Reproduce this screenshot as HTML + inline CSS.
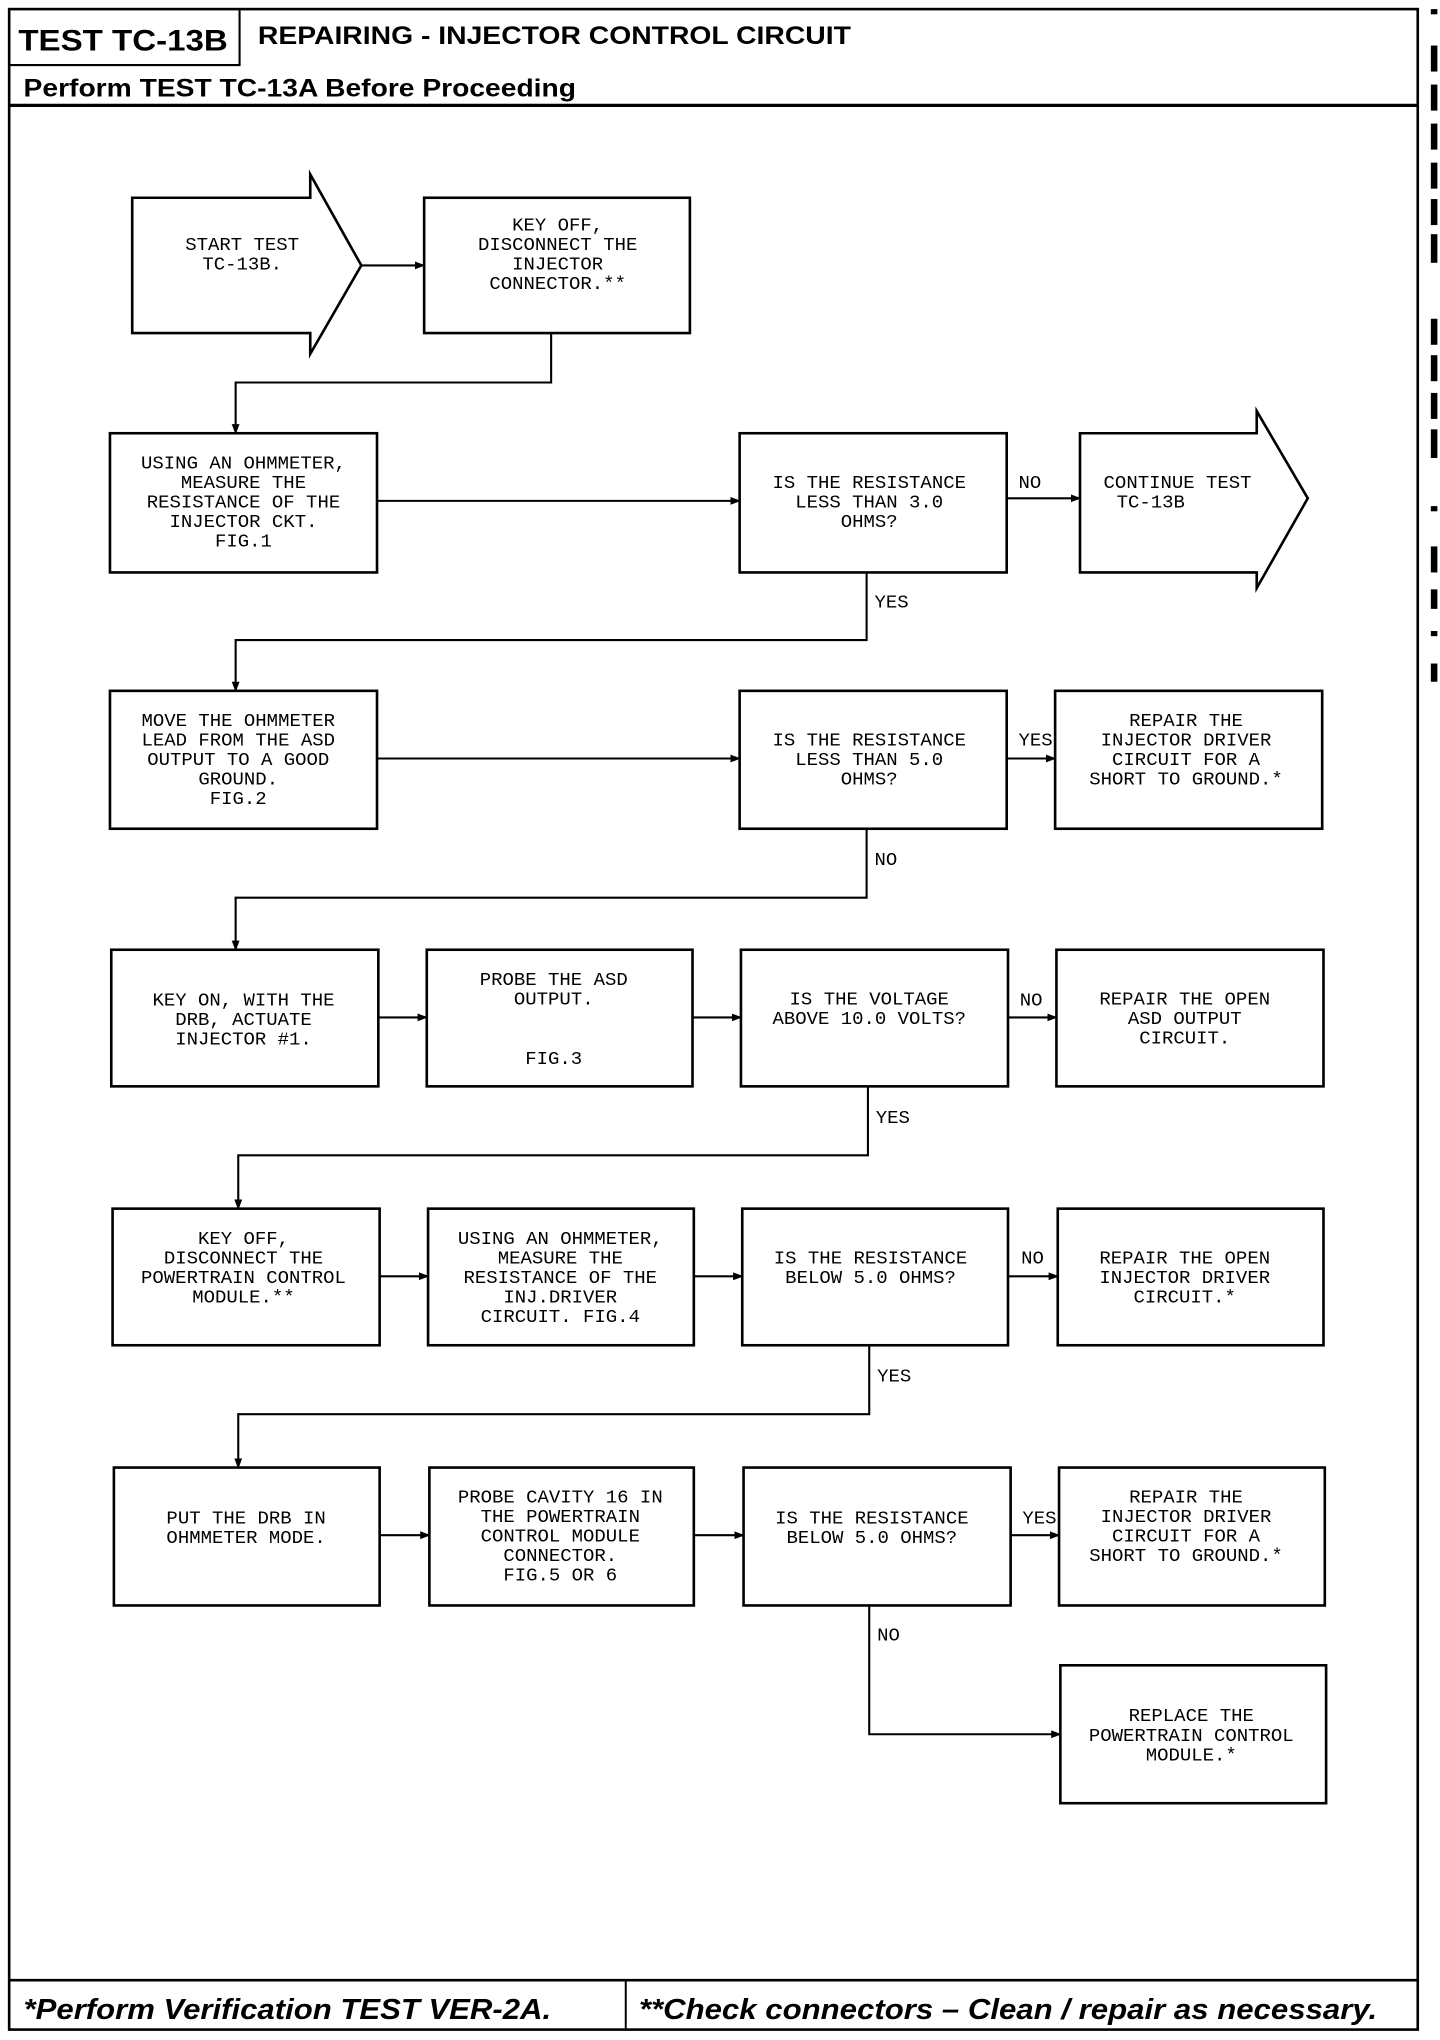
<!DOCTYPE html>
<html><head><meta charset="utf-8">
<style>
html,body{margin:0;padding:0;background:#fff;}
svg{display:block;}
.t{font-family:"Liberation Mono",monospace;font-size:14.5px;fill:#000;text-anchor:middle;}
.l{font-family:"Liberation Mono",monospace;font-size:14.5px;fill:#000;}
.b{fill:#fff;stroke:#000;stroke-width:2;}
.c{fill:none;stroke:#000;stroke-width:1.6;}
</style></head><body>
<svg width="1440" height="2040" viewBox="0 0 1100 1568" preserveAspectRatio="none" xmlns="http://www.w3.org/2000/svg">
<defs><marker id="a" markerWidth="8" markerHeight="8" refX="7" refY="4" orient="auto" markerUnits="userSpaceOnUse"><path d="M0,1 L8,4 L0,7 Z" fill="#000"/></marker></defs>
<rect x="0" y="0" width="1100" height="1568" fill="#fff"/>
<rect x="7" y="7" width="1076" height="1553" fill="none" stroke="#000" stroke-width="2"/>
<path d="M7,50 H183 V8" fill="none" stroke="#000" stroke-width="1.6"/>
<line x1="7" y1="81" x2="1083" y2="81" stroke="#000" stroke-width="2.5"/>
<text x="14" y="39" textLength="160" lengthAdjust="spacingAndGlyphs" style="font-family:'Liberation Sans',sans-serif;font-weight:bold;font-size:23px">TEST TC-13B</text>
<text x="197" y="34" textLength="453" lengthAdjust="spacingAndGlyphs" style="font-family:'Liberation Sans',sans-serif;font-weight:bold;font-size:19px">REPAIRING - INJECTOR CONTROL CIRCUIT</text>
<text x="18" y="74" textLength="422" lengthAdjust="spacingAndGlyphs" style="font-family:'Liberation Sans',sans-serif;font-weight:bold;font-size:19px">Perform TEST TC-13A Before Proceeding</text>
<line x1="7" y1="1522" x2="1083" y2="1522" stroke="#000" stroke-width="2"/>
<line x1="478" y1="1522" x2="478" y2="1560" stroke="#000" stroke-width="1.5"/>
<text x="18" y="1552" textLength="403" lengthAdjust="spacingAndGlyphs" style="font-family:'Liberation Sans',sans-serif;font-weight:bold;font-style:italic;font-size:22px">*Perform Verification TEST VER-2A.</text>
<text x="488" y="1552" textLength="564" lengthAdjust="spacingAndGlyphs" style="font-family:'Liberation Sans',sans-serif;font-weight:bold;font-style:italic;font-size:22px">**Check connectors – Clean / repair as necessary.</text>
<g fill="#000">
<rect x="1093" y="7" width="5" height="4"/><rect x="1093" y="35" width="5" height="20"/><rect x="1093" y="65" width="5" height="20"/><rect x="1093" y="95" width="5" height="20"/><rect x="1093" y="125" width="5" height="20"/><rect x="1093" y="153" width="5" height="20"/><rect x="1093" y="180" width="5" height="22"/>
<rect x="1093" y="245" width="5" height="20"/><rect x="1093" y="273" width="5" height="20"/><rect x="1093" y="302" width="5" height="20"/><rect x="1093" y="330" width="5" height="22"/>
<rect x="1093" y="389" width="5" height="4"/><rect x="1093" y="420" width="5" height="20"/><rect x="1093" y="453" width="5" height="15"/><rect x="1093" y="485" width="5" height="4"/><rect x="1093" y="510" width="5" height="14"/>
</g>
<line class="c" x1="276" y1="204" x2="324" y2="204" marker-end="url(#a)"/>
<path class="c" d="M421,256 V294 H180 V333" marker-end="url(#a)"/>
<line class="c" x1="288" y1="385" x2="565" y2="385" marker-end="url(#a)"/>
<line class="c" x1="769" y1="383" x2="825" y2="383" marker-end="url(#a)"/>
<path class="c" d="M662,440 V492 H180 V531" marker-end="url(#a)"/>
<line class="c" x1="288" y1="583" x2="565" y2="583" marker-end="url(#a)"/>
<line class="c" x1="769" y1="583" x2="806" y2="583" marker-end="url(#a)"/>
<path class="c" d="M662,637 V690 H180 V730" marker-end="url(#a)"/>
<line class="c" x1="289" y1="782" x2="326" y2="782" marker-end="url(#a)"/>
<line class="c" x1="529" y1="782" x2="566" y2="782" marker-end="url(#a)"/>
<line class="c" x1="770" y1="782" x2="807" y2="782" marker-end="url(#a)"/>
<path class="c" d="M663,835 V888 H182 V929" marker-end="url(#a)"/>
<line class="c" x1="290" y1="981" x2="327" y2="981" marker-end="url(#a)"/>
<line class="c" x1="530" y1="981" x2="567" y2="981" marker-end="url(#a)"/>
<line class="c" x1="770" y1="981" x2="808" y2="981" marker-end="url(#a)"/>
<path class="c" d="M664,1034 V1087 H182 V1128" marker-end="url(#a)"/>
<line class="c" x1="290" y1="1180" x2="328" y2="1180" marker-end="url(#a)"/>
<line class="c" x1="530" y1="1180" x2="568" y2="1180" marker-end="url(#a)"/>
<line class="c" x1="772" y1="1180" x2="809" y2="1180" marker-end="url(#a)"/>
<path class="c" d="M664,1234 V1333 H810" marker-end="url(#a)"/>
<text class="l" x="778" y="375">NO</text>
<text class="l" x="668" y="467">YES</text>
<text class="l" x="778" y="573">YES</text>
<text class="l" x="668" y="665">NO</text>
<text class="l" x="779" y="773">NO</text>
<text class="l" x="669" y="863">YES</text>
<text class="l" x="780" y="971">NO</text>
<text class="l" x="670" y="1062">YES</text>
<text class="l" x="781" y="1171">YES</text>
<text class="l" x="670" y="1261">NO</text>
<path class="b" d="M101,152 H237 V134 L276,204 L237,272 V256 H101 Z"/>
<rect class="b" x="324" y="152" width="203" height="104"/>
<rect class="b" x="84" y="333" width="204" height="107"/>
<rect class="b" x="565" y="333" width="204" height="107"/>
<path class="b" d="M825,333 H960 V316 L999,383 L960,452 V440 H825 Z"/>
<rect class="b" x="84" y="531" width="204" height="106"/>
<rect class="b" x="565" y="531" width="204" height="106"/>
<rect class="b" x="806" y="531" width="204" height="106"/>
<rect class="b" x="85" y="730" width="204" height="105"/>
<rect class="b" x="326" y="730" width="203" height="105"/>
<rect class="b" x="566" y="730" width="204" height="105"/>
<rect class="b" x="807" y="730" width="204" height="105"/>
<rect class="b" x="86" y="929" width="204" height="105"/>
<rect class="b" x="327" y="929" width="203" height="105"/>
<rect class="b" x="567" y="929" width="203" height="105"/>
<rect class="b" x="808" y="929" width="203" height="105"/>
<rect class="b" x="87" y="1128" width="203" height="106"/>
<rect class="b" x="328" y="1128" width="202" height="106"/>
<rect class="b" x="568" y="1128" width="204" height="106"/>
<rect class="b" x="809" y="1128" width="203" height="106"/>
<rect class="b" x="810" y="1280" width="203" height="106"/>
<text class="t" x="185" y="192">START TEST</text><text class="t" x="185" y="207">TC-13B.</text>
<text class="t" x="426" y="177">KEY OFF,</text><text class="t" x="426" y="192">DISCONNECT THE</text><text class="t" x="426" y="207">INJECTOR</text><text class="t" x="426" y="222">CONNECTOR.**</text>
<text class="t" x="186" y="360">USING AN OHMMETER,</text><text class="t" x="186" y="375">MEASURE THE</text><text class="t" x="186" y="390">RESISTANCE OF THE</text><text class="t" x="186" y="405">INJECTOR CKT.</text><text class="t" x="186" y="420">FIG.1</text>
<text class="t" x="664" y="375">IS THE RESISTANCE</text><text class="t" x="664" y="390">LESS THAN 3.0</text><text class="t" x="664" y="405">OHMS?</text>
<text class="l" x="843" y="375">CONTINUE TEST</text><text class="l" x="853" y="390">TC-13B</text>
<text class="t" x="182" y="558">MOVE THE OHMMETER</text><text class="t" x="182" y="573">LEAD FROM THE ASD</text><text class="t" x="182" y="588">OUTPUT TO A GOOD</text><text class="t" x="182" y="603">GROUND.</text><text class="t" x="182" y="618">FIG.2</text>
<text class="t" x="664" y="573">IS THE RESISTANCE</text><text class="t" x="664" y="588">LESS THAN 5.0</text><text class="t" x="664" y="603">OHMS?</text>
<text class="t" x="906" y="558">REPAIR THE</text><text class="t" x="906" y="573">INJECTOR DRIVER</text><text class="t" x="906" y="588">CIRCUIT FOR A</text><text class="t" x="906" y="603">SHORT TO GROUND.*</text>
<text class="t" x="186" y="773">KEY ON, WITH THE</text><text class="t" x="186" y="788">DRB, ACTUATE</text><text class="t" x="186" y="803">INJECTOR #1.</text>
<text class="t" x="423" y="757">PROBE THE ASD</text><text class="t" x="423" y="772">OUTPUT.</text><text class="t" x="423" y="818">FIG.3</text>
<text class="t" x="664" y="772">IS THE VOLTAGE</text><text class="t" x="664" y="787">ABOVE 10.0 VOLTS?</text>
<text class="t" x="905" y="772">REPAIR THE OPEN</text><text class="t" x="905" y="787">ASD OUTPUT</text><text class="t" x="905" y="802">CIRCUIT.</text>
<text class="t" x="186" y="956">KEY OFF,</text><text class="t" x="186" y="971">DISCONNECT THE</text><text class="t" x="186" y="986">POWERTRAIN CONTROL</text><text class="t" x="186" y="1001">MODULE.**</text>
<text class="t" x="428" y="956">USING AN OHMMETER,</text><text class="t" x="428" y="971">MEASURE THE</text><text class="t" x="428" y="986">RESISTANCE OF THE</text><text class="t" x="428" y="1001">INJ.DRIVER</text><text class="t" x="428" y="1016">CIRCUIT. FIG.4</text>
<text class="t" x="665" y="971">IS THE RESISTANCE</text><text class="t" x="665" y="986">BELOW 5.0 OHMS?</text>
<text class="t" x="905" y="971">REPAIR THE OPEN</text><text class="t" x="905" y="986">INJECTOR DRIVER</text><text class="t" x="905" y="1001">CIRCUIT.*</text>
<text class="t" x="188" y="1171">PUT THE DRB IN</text><text class="t" x="188" y="1186">OHMMETER MODE.</text>
<text class="t" x="428" y="1155">PROBE CAVITY 16 IN</text><text class="t" x="428" y="1170">THE POWERTRAIN</text><text class="t" x="428" y="1185">CONTROL MODULE</text><text class="t" x="428" y="1200">CONNECTOR.</text><text class="t" x="428" y="1215">FIG.5 OR 6</text>
<text class="t" x="666" y="1171">IS THE RESISTANCE</text><text class="t" x="666" y="1186">BELOW 5.0 OHMS?</text>
<text class="t" x="906" y="1155">REPAIR THE</text><text class="t" x="906" y="1170">INJECTOR DRIVER</text><text class="t" x="906" y="1185">CIRCUIT FOR A</text><text class="t" x="906" y="1200">SHORT TO GROUND.*</text>
<text class="t" x="910" y="1323">REPLACE THE</text><text class="t" x="910" y="1338">POWERTRAIN CONTROL</text><text class="t" x="910" y="1353">MODULE.*</text>
</svg>
</body></html>
